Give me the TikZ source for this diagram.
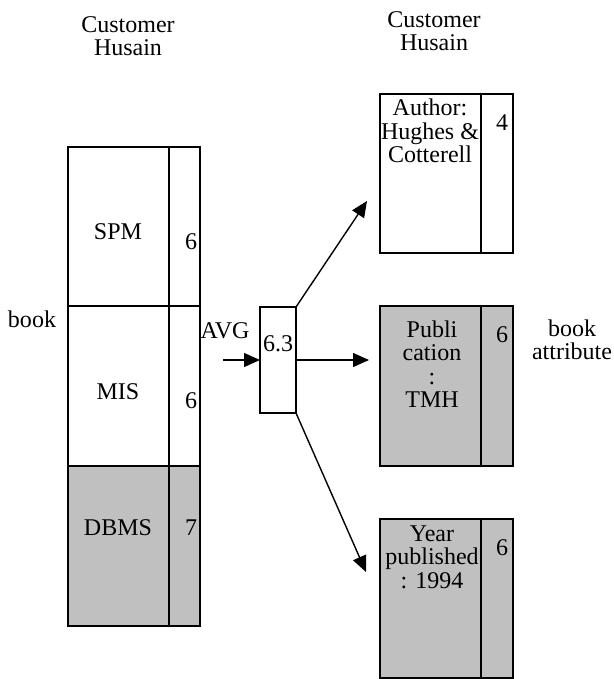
\documentclass[tikz,border=0pt]{standalone}
\usepackage{fontspec}
\setmainfont{Liberation Serif}
\usetikzlibrary{arrows.meta}
\definecolor{cellgray}{HTML}{C0C0C0}
\tikzset{
  cell/.style={draw, anchor=north west, inner sep=0pt, outer sep=0pt},
  grey/.style={fill=cellgray},
  lbl/.style={inner sep=0pt, align=center, font=\fontsize{24pt}{23.5pt}\selectfont},
  arr/.style={-{Triangle[length=16pt,width=14pt]}, line width=1.4pt}
}
\begin{document}
\begin{tikzpicture}[x=1pt,y=-1pt,line width=1.5pt]
\useasboundingbox (0,0) rectangle (613,679);
% left stack
\node[cell, minimum width=101pt, minimum height=159pt] (spm) at (68,147) {};
\node[cell, minimum width=31pt, minimum height=159pt] (spmv) at (169,147) {};
\node[cell, minimum width=101pt, minimum height=160pt] (mis) at (68,306) {};
\node[cell, minimum width=31pt, minimum height=160pt] (misv) at (169,306) {};
\node[cell, grey, minimum width=101pt, minimum height=160pt] (dbms) at (68,466) {};
\node[cell, grey, minimum width=31pt, minimum height=160pt] (dbmsv) at (169,466) {};
% average box
\node[cell, minimum width=36pt, minimum height=106pt] (avg) at (260,307) {};
% right boxes
\node[cell, minimum width=101pt, minimum height=159pt] (auth) at (380,94) {};
\node[cell, minimum width=32pt, minimum height=159pt] (authv) at (481,94) {};
\node[cell, grey, minimum width=101pt, minimum height=160pt] (pub) at (380,306) {};
\node[cell, grey, minimum width=32pt, minimum height=160pt] (pubv) at (481,306) {};
\node[cell, grey, minimum width=101pt, minimum height=159pt] (year) at (380,519) {};
\node[cell, grey, minimum width=32pt, minimum height=159pt] (yearv) at (481,519) {};
% texts
\node[lbl] (c1) at (128,36) {Customer\\Husain};
\node[lbl] (c2) at (434,31) {Customer\\Husain};
\node[lbl] (bk) at (32,319) {book};
\node[lbl] (avgl) at (225,331) {AVG};
\node[lbl] (avgt) at (278,344) {6.3};
\node[lbl] (t1) at (118,232) {SPM};
\node[lbl] (n1) at (191,242) {6};
\node[lbl] (t2) at (118,392) {MIS};
\node[lbl] (n2) at (191,401) {6};
\node[lbl] (t3) at (118,528) {DBMS};
\node[lbl] (n3) at (191,528) {7};
\node[lbl] (ta) at (430,131) {Author:\\Hughes \&\\Cotterell};
\node[lbl] (na) at (502,123) {4};
\node[lbl] (tp) at (432,364) {Publi\\cation\\:\\TMH};
\node[lbl] (np) at (502,335) {6};
\node[lbl] (ty) at (432,557) {Year\\published\\: 1994};
\node[lbl] (ny) at (502,548) {6};
\node[lbl] (ba) at (572,340) {book\\attribute};
% connectors
\coordinate (ain) at (223,360);
\coordinate (tipa) at (367,201);
\coordinate (tipp) at (369,360);
\coordinate (tipy) at (366,572);
\draw[arr] (ain) -- (avg.west);
\draw[arr] (avg.north east) -- (tipa);
\draw[arr] (avg.east) -- (tipp);
\draw[arr] (avg.south east) -- (tipy);
\end{tikzpicture}
\end{document}
